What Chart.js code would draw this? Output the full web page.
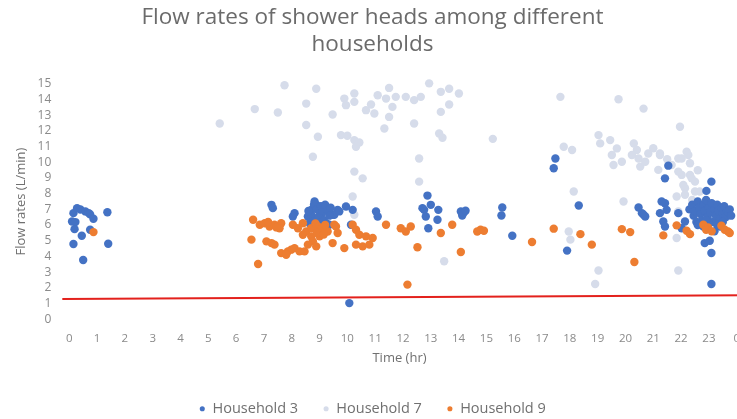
<!DOCTYPE html>
<html>
<head>
<meta charset="utf-8">
<script src="https://cdn.jsdelivr.net/npm/chart.js@4.4.1/dist/chart.umd.min.js"></script>
<style>
  html, body { margin: 0; padding: 0; background: #fff; overflow: hidden; }
  #wrap { width: 737px; height: 419px; overflow: hidden; position: relative; }
  canvas { display: block; }
</style>
</head>
<body>
<div id="wrap"><canvas id="c" width="745" height="419"></canvas></div>
<script>
// ---- data (hour of day, flow rate L/min) ----
const seriesNames = ['Household 3', 'Household 7', 'Household 9'];
const seriesColors = ['#4472C4', '#D6DCEA', '#ED7D31'];
const xTickValues = [0,1,2,3,4,5,6,7,8,9,10,11,12,13,14,15,16,17,18,19,20,21,22,23,24];
const xTickLabels = ['0','1','2','3','4','5','6','7','8','9','10','11','12','13','14','15','16','17','18','19','20','21','22','23','0'];
const yTickValues = [0,1,2,3,4,5,6,7,8,9,10,11,12,13,14,15];

const household3 = [
  [0.15,6.76],[0.28,7.08],[0.40,6.99],[0.58,6.87],[0.70,6.76],[0.75,6.68],[0.87,6.40],[0.10,6.23],[0.22,6.19],
  [0.19,5.74],[0.75,5.70],[0.45,5.32],[0.15,4.79],[1.40,4.81],[1.37,6.82],[0.50,3.77],
  [7.27,7.29],[7.32,7.08],[8.10,6.76],[8.04,6.55],[8.82,7.50],[8.70,6.97],[9.00,6.87],[9.24,7.08],[9.47,6.66],
  [8.58,6.55],[8.88,6.34],[9.11,6.34],[8.64,6.12],[9.00,6.02],[9.65,6.97],[9.53,6.66],[9.71,6.87],[9.95,7.18],
  [10.19,6.97],[11.03,6.87],[11.09,6.55],[10.13,6.02],[9.35,6.02],[8.88,7.29],
  [8.80,7.30],[8.90,7.00],[9.05,7.20],[9.10,6.80],[9.20,7.30],[9.30,6.90],[8.72,6.60],[8.95,6.50],[9.15,6.30],
  [9.35,6.60],[9.40,7.10],[8.60,6.90],[8.75,6.20],[9.25,6.10],
  [10.07,1.02],
  [12.88,7.88],[13.00,7.29],[12.70,7.08],[12.76,6.97],[13.27,6.97],[12.82,6.55],[13.24,6.34],[12.91,5.80],
  [14.08,6.87],[14.19,6.82],[14.13,6.61],[14.25,6.91],[15.57,7.12],[15.54,6.61],[15.93,5.32],
  [17.48,10.25],[17.42,9.62],[18.32,7.25],[17.90,4.37],
  [20.47,7.12],[20.59,6.76],[20.71,6.55],[20.65,6.66],[21.24,6.76],[21.42,7.39],[21.48,6.97],[21.36,6.23],
  [21.42,5.91],[21.90,6.76],[22.14,6.23],[22.02,5.80],[21.30,7.50],
  [21.54,9.79],[21.42,8.98],[23.09,8.77],[22.91,8.18],
  [22.30,7.00],[22.40,7.30],[22.45,6.60],[22.50,6.90],[22.55,6.20],[22.60,7.50],[22.65,7.10],[22.70,6.70],
  [22.75,6.30],[22.80,7.30],[22.85,6.90],[22.90,7.60],[22.95,6.50],[23.00,7.10],[23.05,6.80],[23.10,7.40],
  [23.15,6.20],[23.20,7.00],[23.25,6.60],[23.30,7.30],[23.35,6.90],[23.40,6.40],[23.45,7.10],[23.50,6.70],
  [23.55,7.20],[23.60,6.50],[23.65,6.90],[23.70,6.80],[23.75,7.00],[23.80,6.60],[22.60,6.00],[23.00,6.10],
  [23.30,6.00],[22.90,6.30],[23.50,6.20],[22.80,5.90],[23.20,5.60],[23.40,5.90],
  [22.85,4.85],[23.03,5.00],[23.09,4.22],[23.09,2.24]
];

const household7 = [
  [5.41,12.48],[6.67,13.40],[7.50,13.18],[7.74,14.92],[8.52,13.75],[8.88,14.70],[8.52,12.38],[8.94,11.63],
  [9.47,13.05],[9.77,11.74],[10.00,11.70],[10.25,11.42],[10.43,11.27],[10.31,11.00],[9.89,14.07],[9.95,13.65],
  [10.25,14.39],[10.25,13.86],[10.67,13.33],[10.97,13.12],[10.85,13.69],[11.09,14.28],[11.50,14.75],[11.39,14.07],
  [11.62,13.54],[11.50,12.90],[11.74,14.18],[12.10,14.18],[12.40,13.97],[12.64,14.18],[12.94,15.04],[13.36,14.50],
  [13.66,14.70],[14.01,14.39],[13.66,13.69],[13.36,13.22],[12.40,12.48],[11.33,12.16],[13.30,11.84],[13.42,11.57],
  [8.76,10.36],[12.58,10.25],[10.25,9.41],[10.55,8.98],[12.58,8.77],[10.19,7.82],[10.25,6.66],[13.48,3.69],[15.23,11.50],
  [17.66,14.18],[19.75,14.03],[20.65,13.43],[21.96,12.27],[19.03,11.74],[17.78,11.00],[18.08,10.79],[19.09,11.21],
  [19.45,11.42],[19.69,10.89],[19.51,10.47],[19.87,10.04],[19.57,9.83],[20.41,10.79],[20.47,10.25],[20.53,9.73],
  [20.82,10.57],[21.24,10.57],[21.18,9.52],[21.66,9.83],[21.90,10.25],[22.20,10.68],[22.32,9.94],[22.02,9.20],
  [22.38,8.98],[22.14,8.35],[22.50,8.14],[21.84,7.82],[18.14,8.14],[19.93,7.50],[20.71,10.04],[21.24,10.47],
  [22.02,10.25],[22.26,10.47],[21.90,9.41],[22.08,8.56],[22.32,9.20],[22.50,8.77],[22.14,7.93],[22.67,8.14],
  [21.90,6.87],[21.84,5.17],[20.23,10.47],[17.96,5.59],[18.02,5.07],[19.03,3.10],[18.91,2.24],[21.90,3.10],
  [22.62,6.44],[20.30,11.20],[21.00,10.90],[21.50,10.20],[22.60,9.50],[22.40,7.60]
];

const household9 = [
  [0.87,5.55],
  [6.61,6.34],[6.85,6.02],[7.03,6.12],[7.20,5.91],[7.38,6.02],[7.62,6.12],[7.56,5.80],[6.55,5.07],[7.09,4.96],
  [7.27,4.85],[7.38,4.75],[7.62,4.21],[7.86,4.32],[7.98,4.43],[7.80,4.11],[8.10,4.53],[8.28,4.32],[6.79,3.52],
  [8.04,6.02],[8.22,5.80],[8.40,6.12],[8.52,5.59],[8.70,5.80],[8.94,5.91],[9.11,5.80],[9.29,5.59],[8.40,5.38],
  [8.70,5.28],[9.00,5.28],[8.76,4.96],[8.58,4.75],[8.88,4.64],[8.46,4.32],[9.47,4.85],[9.53,6.02],[9.59,5.91],
  [9.65,5.49],[9.89,4.53],[10.19,6.02],[10.31,5.70],[10.43,5.38],[10.67,5.28],[10.31,4.75],[10.55,4.64],
  [10.79,4.75],[10.91,5.17],[11.39,6.02],[11.92,5.80],[12.28,5.91],[12.10,5.59],[12.52,4.58],[12.16,2.20],
  [13.36,5.49],[13.77,6.02],[14.08,4.28],[14.67,5.59],[14.79,5.70],[14.91,5.64],[16.64,4.92],[17.42,5.77],
  [18.38,5.42],[18.79,4.75],[19.87,5.74],[20.17,5.55],[20.32,3.64],[21.36,5.34],[21.84,5.98],[22.20,5.64],
  [22.32,5.42],[22.80,6.02],[22.97,5.85],[23.45,5.96],[23.69,5.59],[23.57,5.70],[23.75,5.49],[22.90,5.70],[23.10,5.60],
  [8.85,6.10],[9.05,5.70],[9.20,6.00],[8.90,5.50],[9.15,5.40],[7.15,6.20],[7.45,5.85]
];

const limitLine = [[-0.25,1.28],[24.3,1.52]];

const toXY = arr => arr.map(p => ({x: p[0], y: p[1]}));
const FONT = '"Open Sans", "Liberation Sans", sans-serif';

const pointSet = (i, data, order) => ({
  type: 'scatter',
  label: seriesNames[i],
  data: toXY(data),
  backgroundColor: seriesColors[i],
  borderColor: seriesColors[i],
  borderWidth: 0,
  pointRadius: 4.2,
  pointHoverRadius: 4.2,
  order: order,
  clip: false
});

new Chart(document.getElementById('c'), {
  type: 'scatter',
  data: {
    datasets: [
      pointSet(0, household3, 1),
      pointSet(1, household7, 2),
      pointSet(2, household9, 0),
      {
        type: 'line',
        label: 'limit',
        data: toXY(limitLine),
        borderColor: '#E3211C',
        borderWidth: 2,
        pointRadius: 0,
        showLine: true,
        fill: false,
        order: 3,
        clip: false
      }
    ]
  },
  options: {
    responsive: false,
    animation: false,
    layout: { padding: { left: 0, right: 0, top: 4, bottom: -7 } },
    plugins: {
      tooltip: { enabled: false },
      title: {
        display: true,
        text: ['Flow rates of shower heads among different', 'households'],
        color: '#6b6b6b',
        font: { family: FONT, size: 22.5, weight: 'normal', lineHeight: 1.2 },
        padding: { top: 0, bottom: 26 }
      },
      legend: {
        position: 'bottom',
        labels: {
          usePointStyle: true,
          pointStyle: 'circle',
          boxWidth: 6,
          boxHeight: 3.6,
          padding: 25,
          color: '#707070',
          font: { family: FONT, size: 14.5 },
          filter: item => item.datasetIndex < 3,
          sort: (a, b) => a.datasetIndex - b.datasetIndex
        }
      }
    },
    scales: {
      x: {
        type: 'linear',
        min: -0.25,
        max: 24,
        grid: { display: false },
        border: { display: false },
        afterBuildTicks: axis => { axis.ticks = xTickValues.map(v => ({ value: v })); },
        ticks: {
          includeBounds: false,
          autoSkip: false,
          maxRotation: 0,
          padding: 5,
          color: '#8a8a8a',
          font: { family: FONT, size: 11.5 },
          callback: (v) => { const i = xTickValues.indexOf(v); return i >= 0 ? xTickLabels[i] : ''; }
        },
        title: {
          display: true,
          text: 'Time (hr)',
          color: '#707070',
          font: { family: FONT, size: 13 },
          padding: { top: 0, bottom: 10 }
        }
      },
      y: {
        type: 'linear',
        min: 0,
        max: 15,
        grid: { display: false },
        border: { display: false },
        afterBuildTicks: axis => { axis.ticks = yTickValues.map(v => ({ value: v })); },
        ticks: {
          autoSkip: false,
          padding: 3,
          color: '#8a8a8a',
          font: { family: FONT, size: 12 }
        },
        title: {
          display: true,
          text: 'Flow rates (L/min)',
          color: '#707070',
          font: { family: FONT, size: 13 },
          padding: { top: 13, bottom: 6 }
        }
      }
    }
  }
});
</script>
</body>
</html>
